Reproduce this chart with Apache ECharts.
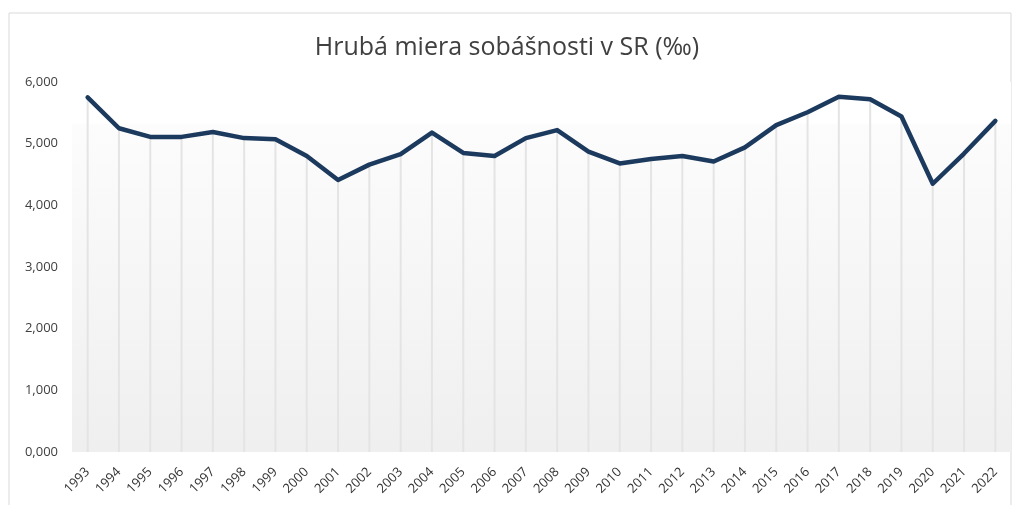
<!DOCTYPE html>
<html>
<head>
<meta charset="utf-8">
<script src="https://cdn.jsdelivr.net/npm/echarts@6/dist/echarts.min.js"></script>
<style>
  html, body { margin: 0; padding: 0; background: #fff; }
  #chart { width: 1014px; height: 505px; }
</style>
</head>
<body>
<div id="chart"></div>
<script>
// roky a hruba miera sobasnosti (promile), odcitane z grafu
const years = ['1993','1994','1995','1996','1997','1998','1999','2000','2001','2002',
  '2003','2004','2005','2006','2007','2008','2009','2010','2011','2012',
  '2013','2014','2015','2016','2017','2018','2019','2020','2021','2022'];
const rate = [5.75, 5.25, 5.11, 5.11, 5.19, 5.09, 5.07, 4.80, 4.41, 4.66,
  4.83, 5.18, 4.85, 4.80, 5.09, 5.22, 4.87, 4.68, 4.75, 4.80,
  4.71, 4.94, 5.30, 5.51, 5.76, 5.72, 5.44, 4.35, 4.84, 5.37];
const yTicks = [0, 1, 2, 3, 4, 5, 6];

const chart = echarts.init(document.getElementById('chart'));
const font = "'Open Sans', 'Noto Sans', sans-serif";

let option = {
  backgroundColor: '#fff',
  animation: false,
  title: {
    text: 'Hrubá miera sobášnosti v SR (‰)',
    left: 'center',
    top: 30,
    textStyle: { fontFamily: font, fontSize: 25, fontWeight: 'normal', color: '#404040' }
  },
  graphic: [{
    type: 'rect',
    shape: { x: 9, y: 13, width: 1002, height: 500 },
    style: { fill: 'none', stroke: '#d9d9d9', lineWidth: 1 },
    silent: true,
    z: -10
  }],
  grid: {
    left: 72, right: 3, top: 82, bottom: 53,
    show: true,
    borderWidth: 0,
    backgroundColor: {
      type: 'linear', x: 0, y: 0, x2: 0, y2: 1,
      colorStops: [
        { offset: 0, color: '#ffffff' },
        { offset: 0.11, color: '#ffffff' },
        { offset: 0.115, color: '#fcfcfc' },
        { offset: 1, color: '#efefef' }
      ]
    }
  },
  xAxis: {
    type: 'category',
    data: years,
    boundaryGap: true,
    axisLine: { show: false },
    axisTick: { show: false },
    splitLine: { show: false },
    axisLabel: {
      rotate: 45,
      interval: 0,
      margin: 18,
      fontFamily: font,
      fontSize: 13,
      color: '#333333'
    }
  },
  yAxis: {
    type: 'value',
    min: yTicks[0],
    max: yTicks[yTicks.length - 1],
    interval: 1,
    axisLine: { show: false },
    axisTick: { show: false },
    splitLine: { show: false },
    axisLabel: {
      margin: 14,
      fontFamily: font,
      fontSize: 13,
      color: '#404040',
      formatter: function (v) { return v.toFixed(3).replace('.', ','); }
    }
  },
  series: [
    {
      // zvisle ciary od bodu k osi
      name: 'drop',
      type: 'bar',
      data: rate,
      barWidth: 2,
      itemStyle: { color: '#e4e4e4' },
      silent: true,
      z: 1
    },
    {
      name: 'Hrubá miera sobášnosti',
      type: 'line',
      data: rate,
      showSymbol: false,
      smooth: false,
      lineStyle: { color: '#1c3a5e', width: 4.5, join: 'round', cap: 'round' },
      z: 5
    }
  ]
};
chart.setOption(option);
</script>
</body>
</html>
